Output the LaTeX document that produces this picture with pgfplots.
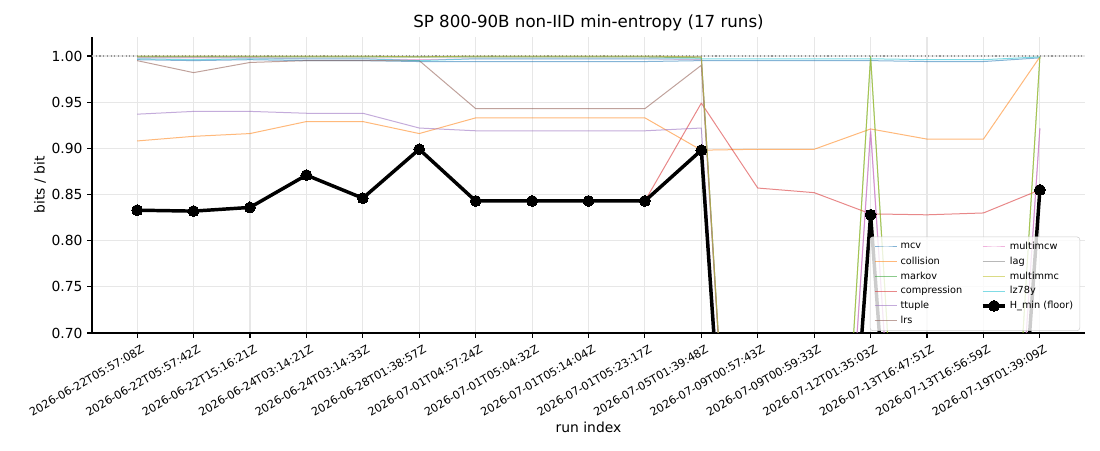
\documentclass[border=0pt]{standalone}
\usepackage{fontspec}
\setmainfont{DejaVu Sans}
\usepackage{pgfplots}
\pgfplotsset{compat=1.18}
\usepackage{pgfplotstable}
\usetikzlibrary{calc}

\definecolor{tabblue}{HTML}{1F77B4}
\definecolor{taborange}{HTML}{FF7F0E}
\definecolor{tabgreen}{HTML}{2CA02C}
\definecolor{tabred}{HTML}{D62728}
\definecolor{tabpurple}{HTML}{9467BD}
\definecolor{tabbrown}{HTML}{8C564B}
\definecolor{tabpink}{HTML}{E377C2}
\definecolor{tabgray}{HTML}{7F7F7F}
\definecolor{tabolive}{HTML}{BCBD22}
\definecolor{tabcyan}{HTML}{17BECF}
\definecolor{gridgray}{RGB}{231,231,231}
\definecolor{legborder}{RGB}{204,204,204}
\definecolor{refgray}{RGB}{150,150,150}

\pgfplotstableread{
idx mcv   coll  markov comp  ttuple lrs   mcw   lag   mmc   lz    hmin
0  0.996 0.908 0.999 0.833 0.937 0.995 0.998 0.999 1.000 0.997 0.833
1  0.995 0.913 0.999 0.832 0.940 0.982 0.998 0.999 1.000 0.996 0.832
2  0.996 0.916 0.999 0.836 0.940 0.993 0.998 0.999 1.000 0.997 0.836
3  0.995 0.929 0.999 0.871 0.938 0.995 0.997 0.999 1.000 0.997 0.871
4  0.995 0.929 0.999 0.846 0.938 0.995 0.997 0.999 1.000 0.997 0.846
5  0.994 0.916 0.999 0.899 0.922 0.995 0.996 0.999 0.999 0.995 0.899
6  0.994 0.933 0.999 0.843 0.919 0.943 0.997 0.999 1.000 0.997 0.843
7  0.994 0.933 0.999 0.843 0.919 0.943 0.997 0.999 1.000 0.997 0.843
8  0.994 0.933 0.999 0.843 0.919 0.943 0.997 0.999 1.000 0.997 0.843
9  0.994 0.933 0.999 0.843 0.919 0.943 0.997 0.999 1.000 0.997 0.843
10 0.995 0.898 0.998 0.949 0.922 0.990 0.996 0.999 0.999 0.997 0.898
11 0.995 0.899 0.000 0.857 0.000 0.000 0.000 0.000 0.000 0.997 0.000
12 0.995 0.899 0.000 0.852 0.000 0.000 0.000 0.000 0.000 0.997 0.000
13 0.995 0.921 1.000 0.829 0.918 0.000 0.921 0.000 0.999 0.997 0.828
14 0.994 0.910 0.000 0.828 0.000 0.000 0.000 0.000 0.000 0.996 0.000
15 0.994 0.910 0.000 0.830 0.000 0.000 0.000 0.000 0.000 0.996 0.000
16 0.998 0.999 0.999 0.855 0.922 0.000 0.921 0.000 0.999 0.999 0.855
}\data

\begin{document}
\begin{tikzpicture}
\begin{axis}[
  scale only axis,
  width=744.75pt, height=222pt,
  xmin=-0.8, xmax=16.8, ymin=0.70, ymax=1.0206,
  axis lines=left,
  axis line style={-, line width=0.8pt},
  xtick={0,1,2,3,4,5,6,7,8,9,10,11,12,13,14,15,16},
  xticklabels={2026-06-22T05:57:08Z,2026-06-22T05:57:42Z,2026-06-22T15:16:21Z,2026-06-24T03:14:21Z,2026-06-24T03:14:33Z,2026-06-28T01:38:57Z,2026-07-01T04:57:24Z,2026-07-01T05:04:32Z,2026-07-01T05:14:04Z,2026-07-01T05:23:17Z,2026-07-05T01:39:48Z,2026-07-09T00:57:43Z,2026-07-09T00:59:33Z,2026-07-12T01:35:03Z,2026-07-13T16:47:51Z,2026-07-13T16:56:59Z,2026-07-19T01:39:09Z},
  xticklabel style={rotate=30, anchor=north east, font=\fontsize{8.4}{9}\selectfont, inner sep=1pt, yshift=-4.5pt, xshift=1pt},
  ytick={0.70,0.75,0.80,0.85,0.90,0.95,1.00},
  yticklabel style={/pgf/number format/fixed, /pgf/number format/fixed zerofill, /pgf/number format/precision=2, font=\fontsize{10.4}{12}\selectfont},
  /pgf/number format/assume math mode=true,
  tick align=outside,
  major tick length=3.6pt,
  tick style={black, line width=0.8pt},
  grid=major,
  grid style={gridgray, line width=0.8pt},
  title={SP 800-90B non-IID min-entropy (17 runs)},
  every axis title shift=0pt,
  title style={at={(axis description cs:0.5,1.0473)}, anchor=center, yshift=0pt, font=\fontsize{12.5}{14}\selectfont},
  xlabel={run index},
  xlabel style={at={(axis description cs:0.5,-0.3176)}, anchor=center, font=\fontsize{10.4}{12}\selectfont},
  ylabel={bits / bit},
  ylabel style={at={(axis description cs:-0.0524,0.5)}, anchor=center, rotate=0, font=\fontsize{10.4}{12}\selectfont},
  legend columns=2,
  legend cell align=left,
  legend style={at={(0.995,0.007)}, anchor=south east, font=\fontsize{7.3}{8.5}\selectfont,
    draw=legborder, rounded corners=2pt, fill=white, fill opacity=0.8, draw opacity=1, text opacity=1,
    /tikz/every even column/.append style={column sep=12pt}, row sep=0pt},
  every axis plot/.append style={line join=round},
]
\coordinate (sw) at (rel axis cs:0,0);
\coordinate (ne) at (rel axis cs:1,1);

\addplot[forget plot, refgray, dotted, line width=0.8pt] coordinates {(-0.8,1) (16.8,1)};

\addplot[forget plot, tabblue, opacity=0.55, line width=0.75pt] table[x=idx,y=mcv]{\data};
\addplot[forget plot, taborange, opacity=0.55, line width=0.75pt] table[x=idx,y=coll]{\data};
\addplot[forget plot, tabgreen, opacity=0.55, line width=0.75pt] table[x=idx,y=markov]{\data};
\addplot[forget plot, tabred, opacity=0.55, line width=0.75pt] table[x=idx,y=comp]{\data};
\addplot[forget plot, tabpurple, opacity=0.55, line width=0.75pt] table[x=idx,y=ttuple]{\data};
\addplot[forget plot, tabbrown, opacity=0.55, line width=0.75pt] table[x=idx,y=lrs]{\data};
\addplot[forget plot, tabpink, opacity=0.55, line width=0.75pt] table[x=idx,y=mcw]{\data};
\addplot[forget plot, tabgray, opacity=0.55, line width=0.75pt] table[x=idx,y=lag]{\data};
\addplot[forget plot, tabolive, opacity=0.55, line width=0.75pt] table[x=idx,y=mmc]{\data};
\addplot[forget plot, tabcyan, opacity=0.55, line width=0.75pt] table[x=idx,y=lz]{\data};
\addplot[forget plot, black, line width=2.6pt, mark=*, mark size=4.1pt, mark options={solid, fill=black, line width=0pt}] table[x=idx,y=hmin]{\data};

\addlegendimage{tabblue, opacity=0.55, line width=0.75pt}
\addlegendimage{tabpink, opacity=0.55, line width=0.75pt}
\addlegendimage{taborange, opacity=0.55, line width=0.75pt}
\addlegendimage{tabgray, opacity=0.55, line width=0.75pt}
\addlegendimage{tabgreen, opacity=0.55, line width=0.75pt}
\addlegendimage{tabolive, opacity=0.55, line width=0.75pt}
\addlegendimage{tabred, opacity=0.55, line width=0.75pt}
\addlegendimage{tabcyan, opacity=0.55, line width=0.75pt}
\addlegendimage{tabpurple, opacity=0.55, line width=0.75pt}
\addlegendimage{black, line width=2.6pt, mark=*, mark size=4.1pt, fill opacity=1, mark options={solid, fill=black, fill opacity=1, line width=0pt}}
\addlegendimage{tabbrown, opacity=0.55, line width=0.75pt}
\legend{mcv, multimcw, collision, lag, markov, multimmc, compression, lz78y, ttuple, H\_min (floor), lrs}
\end{axis}
\pgfresetboundingbox
\path[use as bounding box] ($(sw)+(-69pt,-87.75pt)$) rectangle ($(ne)+(11.25pt,27.75pt)$);
\end{tikzpicture}
\end{document}
